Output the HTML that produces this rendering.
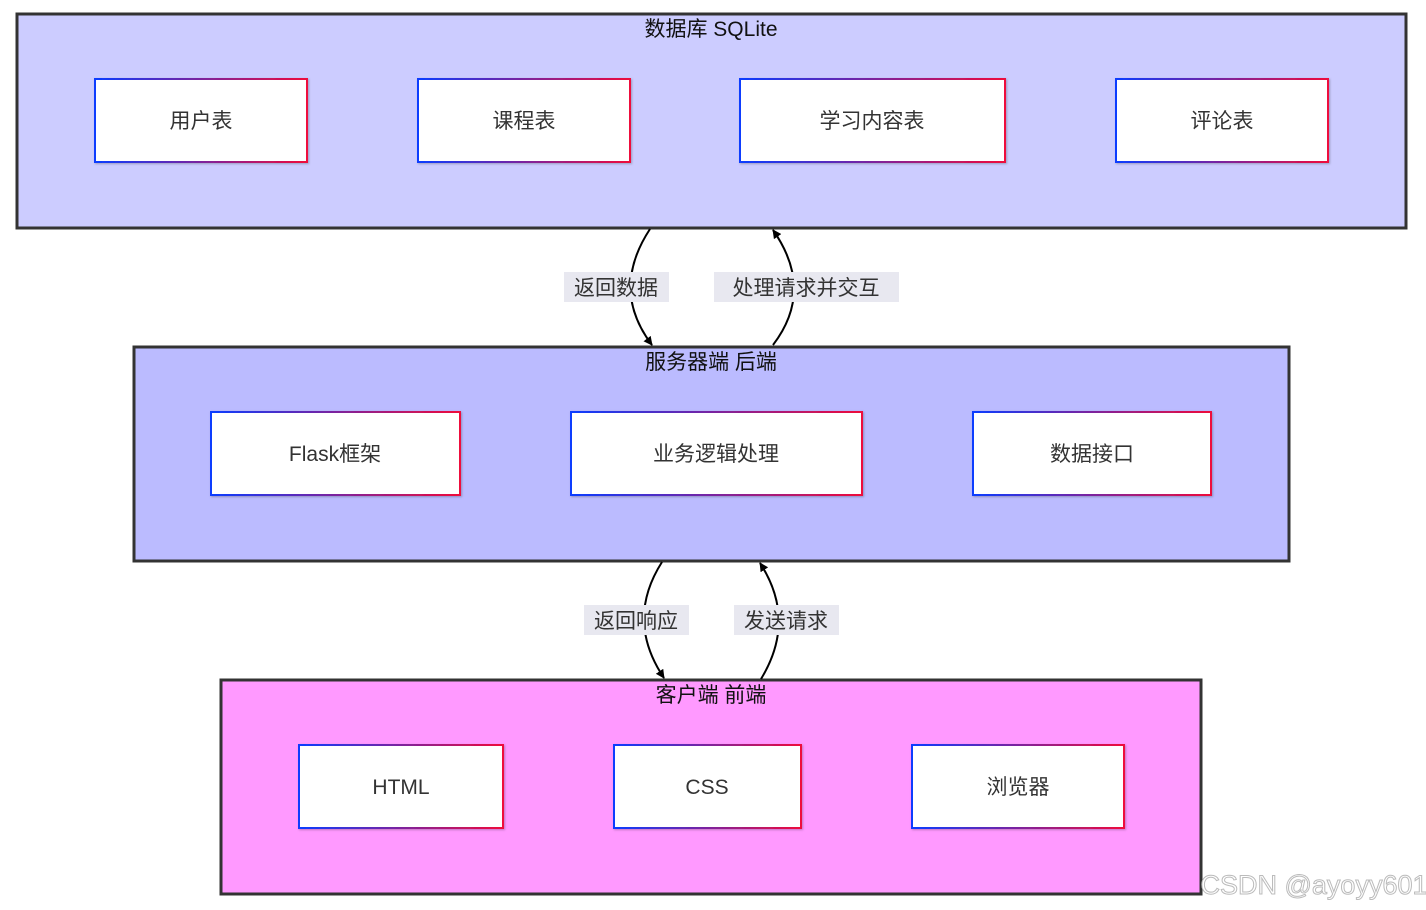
<!DOCTYPE html>
<html><head><meta charset="utf-8"><style>
html,body{margin:0;padding:0;background:#fff;width:1426px;height:910px;overflow:hidden}
svg text{font-family:"Liberation Sans","Noto Sans CJK SC",sans-serif}
</style></head><body>
<svg width="1426" height="910" viewBox="0 0 1426 910" xmlns="http://www.w3.org/2000/svg">
<defs>
<linearGradient id="g" x1="0" y1="0" x2="1" y2="0">
<stop offset="0" stop-color="#0a3cff"/><stop offset="1" stop-color="#ee0a3c"/></linearGradient>
<marker id="ar" viewBox="0 0 10 10" refX="9" refY="5" markerWidth="9" markerHeight="9" orient="auto-start-reverse" markerUnits="userSpaceOnUse">
<path d="M0,0 L10,5 L0,10 z" fill="#000"/></marker>
<filter id="sh"><feDropShadow dx="1" dy="1" stdDeviation="1" flood-opacity="0.25"/></filter>
</defs>
<g stroke="#333" stroke-width="3">
<rect x="17" y="14" width="1389" height="214" fill="#ccccff"/>
<rect x="134" y="347" width="1155" height="214" fill="#bbbbff"/>
<rect x="221" y="680" width="980" height="214" fill="#ff99ff"/>
</g>
<g font-size="21" fill="#111" text-anchor="middle">
<text x="711" y="36">数据库 SQLite</text>
<text x="711" y="369">服务器端 后端</text>
<text x="711" y="702">客户端 前端</text>
</g>
<g fill="#fff" stroke="url(#g)" stroke-width="2" filter="url(#sh)">
<rect x="95" y="79" width="212" height="83"/>
<rect x="418" y="79" width="212" height="83"/>
<rect x="740" y="79" width="265" height="83"/>
<rect x="1116" y="79" width="212" height="83"/>
<rect x="211" y="412" width="249" height="83"/>
<rect x="571" y="412" width="291" height="83"/>
<rect x="973" y="412" width="238" height="83"/>
<rect x="299" y="745" width="204" height="83"/>
<rect x="614" y="745" width="187" height="83"/>
<rect x="912" y="745" width="212" height="83"/>
</g>
<g font-size="21" fill="#333" text-anchor="middle">
<text x="201" y="128">用户表</text>
<text x="524" y="128">课程表</text>
<text x="872" y="128">学习内容表</text>
<text x="1222" y="128">评论表</text>
<text x="335" y="461">Flask框架</text>
<text x="716" y="461">业务逻辑处理</text>
<text x="1092" y="461">数据接口</text>
<text x="401" y="794">HTML</text>
<text x="707" y="794">CSS</text>
<text x="1018" y="794">浏览器</text>
</g>
<g fill="none" stroke="#000" stroke-width="2">
<path d="M650,229 Q610,290 652,345" marker-end="url(#ar)"/>
<path d="M773,345 Q815,290 773,230" marker-end="url(#ar)"/>
<path d="M662,562 Q625,620 664,678" marker-end="url(#ar)"/>
<path d="M761,679 Q797,620 760,563" marker-end="url(#ar)"/>
</g>
<g fill="#e8e8f0">
<rect x="564" y="272" width="105" height="30"/>
<rect x="714" y="272" width="185" height="30"/>
<rect x="584" y="605" width="105" height="30"/>
<rect x="734" y="605" width="105" height="30"/>
</g>
<g font-size="21" fill="#333" text-anchor="middle">
<text x="616" y="295">返回数据</text>
<text x="806" y="295">处理请求并交互</text>
<text x="636" y="628">返回响应</text>
<text x="786" y="628">发送请求</text>
</g>
<text x="1314" y="894" font-size="27" fill="#fff" stroke="#bbb" stroke-width="1" text-anchor="middle">CSDN @ayoyy601</text>
</svg>
</body></html>
